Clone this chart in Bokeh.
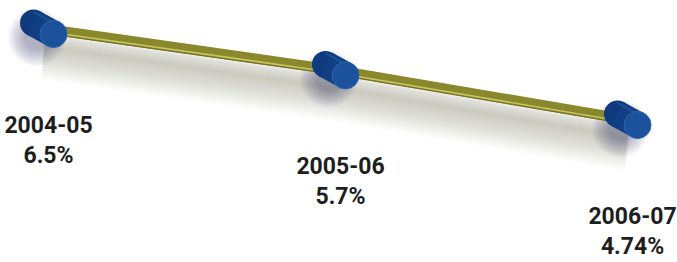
from bokeh.plotting import figure
from bokeh.embed import file_html
from bokeh.resources import INLINE
from bokeh.core.properties import value

# ---- data ----
years = ["2004-05", "2005-06", "2006-07"]
rates = [6.5, 5.7, 4.74]
rate_labels = ["6.5%", "5.7%", "4.74%"]

W, H = 677, 262
x_start, x_end = -0.1473, 2.1712
y_start, y_end = 1.974, 7.042
XU = (x_end - x_start) / W    # data units per pixel (x)
YU = (y_end - y_start) / H    # data units per pixel (y)

xs = list(range(len(years)))

p = figure(width=W, height=H, x_range=(x_start, x_end), y_range=(y_start, y_end),
           output_backend="svg", toolbar_location=None, min_border=0,
           outline_line_color=None, background_fill_color="white")
p.axis.visible = False
p.grid.visible = False

# soft shadow beneath the line
for k in range(1, 16):
    off = 4 + k * 2.0
    p.line(xs, [r - off * YU for r in rates],
           line_width=6 + k * 1.8, line_color="#66684a", line_alpha=0.035)

# soft shadow around cylinders (mostly below-left)
for k in range(1, 12):
    p.scatter([x - 7 * XU for x in xs], [r - 9 * YU for r in rates],
              size=22 + k * 3.2, marker="circle", fill_color="#2e3070",
              fill_alpha=0.04, line_color=None)

# the line (olive bar)
p.line(xs, rates, line_width=10, line_color="#8a882c")
p.line(xs, [r - 2.8 * YU for r in rates], line_width=1.6, line_color="#c9c362")
p.line(xs, [r - 4.6 * YU for r in rates], line_width=1.0, line_color="#727024")

# cylinders
dx, dy = 10 * XU, 5.5 * YU
bx = [x - dx for x in xs]
by = [r + dy for r in rates]
fx = [x + dx for x in xs]
fy = [r - dy for r in rates]
p.scatter(bx, by, size=27, marker="circle", fill_color="#0f3b7e", line_color=None)
p.segment(bx, by, fx, fy, line_width=27, line_color="#113f84", line_cap="butt")
p.segment([b - 0.5 * XU for b in bx], [b + 11.5 * YU for b in by],
          [f - 0.5 * XU for f in fx], [f + 11.5 * YU for f in fy],
          line_width=2, line_color="#2a5aa0", line_alpha=0.6)
p.scatter(fx, fy, size=27, marker="circle", fill_color="#1b529b",
          line_color="#2b64ad", line_width=1)

# labels
p.text(xs, rates, text=[f"{a}\n{b}" for a, b in zip(years, rate_labels)],
       x_offset=5, y_offset=83, text_align="center", text_baseline="top",
       text_font=value("Roboto"), text_font_style="bold",
       text_font_size="23px", text_color="#1e1e1e", text_line_height=1.12)

open("out.html", "w").write(file_html(p, INLINE))
